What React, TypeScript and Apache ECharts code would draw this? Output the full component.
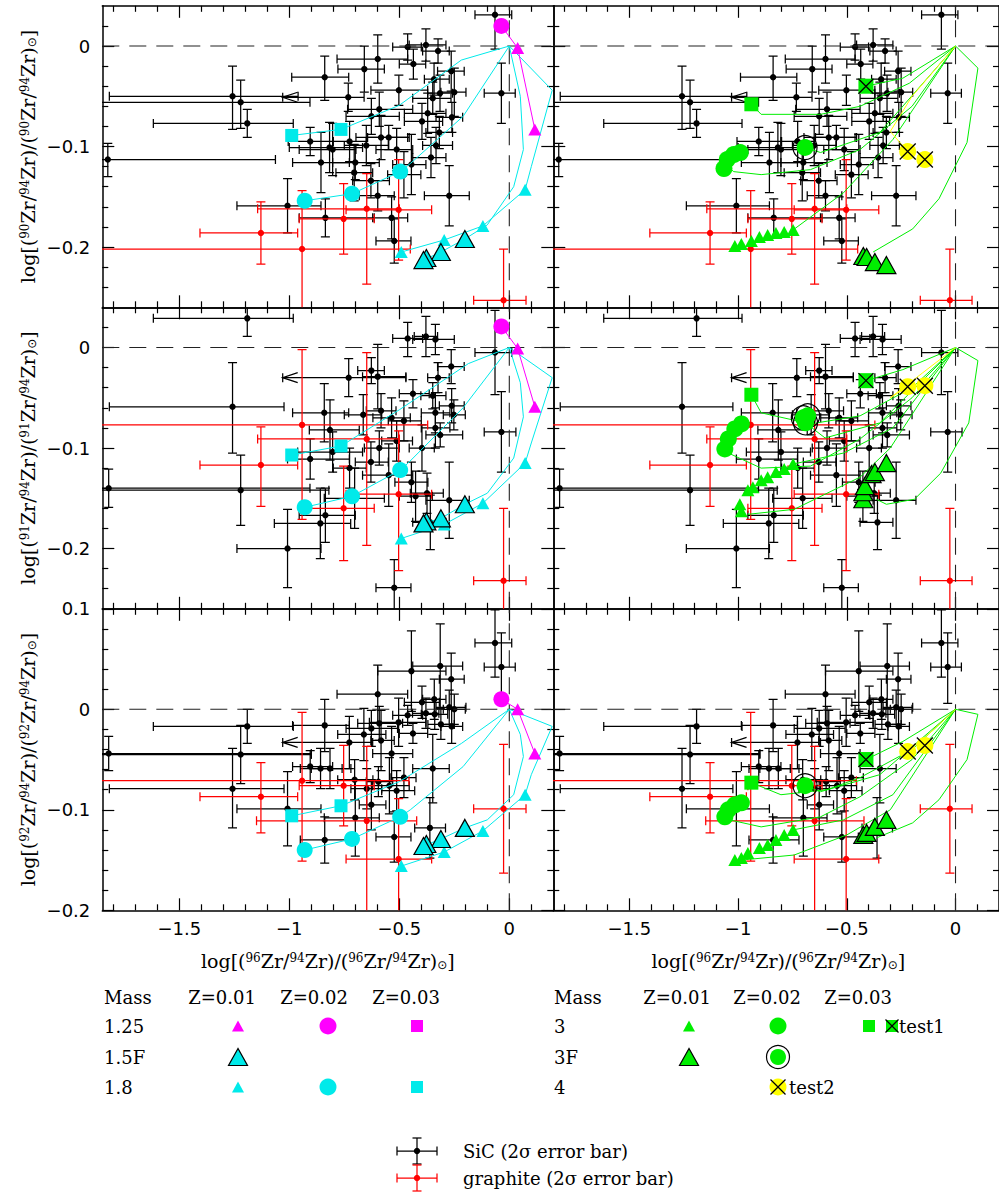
import React, { useEffect, useRef } from 'react';
import * as echarts from 'echarts';

// ---------------- axes ----------------
const X_MIN = -1.85;
const X_MAX = 0.2;
const X_MAJOR = [-1.5, -1, -0.5, 0];
const X_MINOR = [-1.8, -1.7, -1.6, -1.4, -1.3, -1.2, -1.1, -0.9, -0.8, -0.7, -0.6, -0.4, -0.3, -0.2, -0.1, 0.1];
const Y_LIMITS = [[-0.26, 0.04], [-0.26, 0.04], [-0.2, 0.1]];
const Y_MAJOR = [[-0.2, -0.1, 0], [-0.2, -0.1, 0], [-0.2, -0.1, 0, 0.1]];
const Y_MINOR_A = [-0.24, -0.22, -0.18, -0.16, -0.14, -0.12, -0.08, -0.06, -0.04, -0.02, 0.02];
const Y_MINOR_B = [-0.18, -0.16, -0.14, -0.12, -0.08, -0.06, -0.04, -0.02, 0.02, 0.04, 0.06, 0.08];
const Y_MINOR = [Y_MINOR_A, Y_MINOR_A, Y_MINOR_B];
const ZERO_H = [[X_MIN, 0], [X_MAX, 0]];

// ---------------- grains: [x, y, xLow, xHigh, yErrDown, yErrUp] ----------------
const SIC_90 = [
  [-0.065, 0.031, -0.156, 0.011, 0.034, 0.034], [-1.258, -0.05, -1.818, -0.96, 0.033, 0.03],
  [-1.221, -0.056, -1.95, -0.906, 0.026, 0.022], [-1.191, -0.077, -1.618, -0.982, 0.014, 0.014],
  [-1.825, -0.113, -1.95, -1.063, 0.017, 0.016], [-0.839, -0.031, -0.989, -0.73, 0.023, 0.021],
  [-0.732, -0.051, -1.03, -0.66, 0.014, 0.014], [-0.462, -0.001, -0.53, -0.4, 0.013, 0.013],
  [-0.379, 0.001, -0.455, -0.288, 0.016, 0.016], [-0.324, -0.005, -0.394, -0.273, 0.012, 0.012],
  [-0.436, -0.018, -0.5, -0.38, 0.015, 0.015], [-0.598, -0.013, -0.783, -0.462, 0.024, 0.024],
  [-0.659, -0.023, -0.779, -0.568, 0.023, 0.023], [-0.264, -0.025, -0.326, -0.205, 0.02, 0.02],
  [-0.342, -0.033, -0.386, -0.273, 0.016, 0.016], [-0.502, -0.044, -0.629, -0.371, 0.015, 0.015],
  [-0.25, -0.046, -0.311, -0.197, 0.024, 0.024], [-0.036, -0.047, -0.114, 0.027, 0.03, 0.03],
  [-0.315, -0.047, -0.371, -0.258, 0.018, 0.018], [-0.348, -0.052, -0.439, -0.265, 0.016, 0.016],
  [-0.591, -0.063, -0.735, -0.439, 0.017, 0.017], [-0.627, -0.07, -0.742, -0.5, 0.018, 0.018],
  [-0.371, -0.067, -0.477, -0.288, 0.02, 0.02], [-0.397, -0.075, -0.477, -0.303, 0.018, 0.018],
  [-0.261, -0.071, -0.333, -0.212, 0.015, 0.015], [-0.318, -0.086, -0.379, -0.258, 0.016, 0.016],
  [-0.333, -0.099, -0.394, -0.258, 0.018, 0.018], [-0.356, -0.111, -0.439, -0.288, 0.02, 0.02],
  [-0.583, -0.091, -0.697, -0.462, 0.022, 0.022], [-0.548, -0.091, -0.644, -0.455, 0.012, 0.012],
  [-0.512, -0.103, -0.606, -0.439, 0.021, 0.021], [-0.905, -0.095, -1.005, -0.803, 0.014, 0.014],
  [-0.817, -0.101, -1.0, -0.667, 0.025, 0.025], [-0.803, -0.103, -0.955, -0.697, 0.026, 0.026],
  [-0.856, -0.116, -0.985, -0.727, 0.03, 0.03], [-0.7, -0.116, -0.803, -0.591, 0.017, 0.017],
  [-0.705, -0.126, -0.788, -0.621, 0.028, 0.028], [-0.629, -0.134, -0.712, -0.545, 0.017, 0.017],
  [-0.598, -0.149, -0.682, -0.523, 0.015, 0.015], [-0.479, -0.128, -0.553, -0.402, 0.023, 0.023],
  [-0.445, -0.118, -0.53, -0.379, 0.03, 0.03], [-0.273, -0.149, -0.386, -0.182, 0.03, 0.03],
  [-0.836, -0.171, -0.955, -0.614, 0.019, 0.019], [-0.535, -0.171, -0.621, -0.462, 0.021, 0.021],
  [-0.523, -0.194, -0.606, -0.447, 0.022, 0.022], [-1.008, -0.159, -1.238, -0.856, 0.027, 0.027],
  [-0.726, -0.095, -0.8, -0.65, 0.02, 0.02], [-0.65, -0.099, -0.75, -0.55, 0.02, 0.02],
];
const SIC_91 = [
  [-0.065, -0.005, -0.156, 0.011, 0.042, 0.042], [-1.191, 0.029, -1.618, -0.982, 0.018, 0.018],
  [-0.462, 0.009, -0.53, -0.394, 0.018, 0.016], [-0.379, 0.011, -0.432, -0.326, 0.02, 0.02],
  [-0.336, 0.008, -0.439, -0.25, 0.015, 0.015], [-0.627, -0.023, -0.689, -0.568, 0.013, 0.013],
  [-0.598, -0.029, -0.667, -0.47, 0.032, 0.032], [-0.73, -0.03, -1.03, -0.47, 0.019, 0.019],
  [-0.264, -0.019, -0.326, -0.205, 0.017, 0.017], [-0.324, -0.03, -0.371, -0.273, 0.015, 0.015],
  [-0.438, -0.046, -0.5, -0.364, 0.014, 0.014], [-0.348, -0.048, -0.402, -0.288, 0.013, 0.013],
  [-0.262, -0.058, -0.318, -0.205, 0.017, 0.017], [-0.252, -0.067, -0.3, -0.2, 0.015, 0.015],
  [-0.336, -0.065, -0.4, -0.27, 0.02, 0.02], [-0.583, -0.063, -0.65, -0.515, 0.017, 0.017],
  [-0.535, -0.07, -0.62, -0.45, 0.02, 0.02], [-0.479, -0.073, -0.55, -0.4, 0.02, 0.02],
  [-0.841, -0.065, -0.985, -0.73, 0.029, 0.029], [-0.815, -0.082, -0.909, -0.682, 0.03, 0.03],
  [-0.803, -0.104, -0.962, -0.667, 0.02, 0.02], [-1.258, -0.059, -1.818, -1.024, 0.046, 0.044],
  [-1.221, -0.142, -1.95, -0.82, 0.035, 0.035], [-1.821, -0.14, -1.95, -0.906, 0.019, 0.019],
  [-0.905, -0.111, -1.008, -0.727, 0.02, 0.02], [-0.629, -0.114, -0.7, -0.55, 0.02, 0.02],
  [-0.591, -0.1, -0.659, -0.5, 0.017, 0.017], [-0.512, -0.093, -0.58, -0.44, 0.02, 0.02],
  [-0.397, -0.1, -0.455, -0.341, 0.023, 0.023], [-0.314, -0.087, -0.379, -0.212, 0.012, 0.012],
  [-0.336, -0.08, -0.4, -0.27, 0.02, 0.02], [-0.703, -0.15, -0.841, -0.568, 0.03, 0.03],
  [-0.859, -0.175, -1.068, -0.721, 0.035, 0.035], [-1.008, -0.2, -1.238, -0.856, 0.039, 0.039],
  [-0.548, -0.127, -0.667, -0.439, 0.031, 0.031], [-0.359, -0.174, -0.439, -0.288, 0.027, 0.027],
  [-0.273, -0.152, -0.379, -0.182, 0.038, 0.038], [-0.523, -0.239, -0.606, -0.447, 0.028, 0.028],
  [-0.036, -0.084, -0.114, 0.03, 0.04, 0.04], [-0.445, -0.134, -0.52, -0.37, 0.02, 0.02],
  [-0.426, -0.148, -0.5, -0.35, 0.025, 0.025], [-0.836, -0.167, -0.955, -0.7, 0.027, 0.027],
  [-0.664, -0.067, -0.75, -0.58, 0.02, 0.02], [-0.726, -0.12, -0.8, -0.65, 0.02, 0.02],
  [-0.374, -0.145, -0.45, -0.3, 0.02, 0.02],
];
const SIC_92 = [
  [-0.065, 0.066, -0.156, 0.011, 0.034, 0.033], [-0.036, 0.042, -0.114, 0.027, 0.036, 0.034],
  [-0.445, 0.038, -0.598, -0.288, 0.04, 0.04], [-0.314, 0.043, -0.439, -0.212, 0.042, 0.042],
  [-0.264, 0.03, -0.318, -0.205, 0.028, 0.026], [-0.598, 0.015, -0.783, -0.462, 0.029, 0.029],
  [-0.397, 0.007, -0.477, -0.318, 0.016, 0.016], [-0.341, 0.01, -0.394, -0.288, 0.02, 0.02],
  [-0.273, 0.002, -0.333, -0.197, 0.017, 0.017], [-0.25, 0, -0.3, -0.2, 0.015, 0.015],
  [-0.379, -0.004, -0.44, -0.32, 0.015, 0.015], [-0.339, -0.005, -0.4, -0.28, 0.015, 0.015],
  [-0.462, -0.006, -0.53, -0.394, 0.01, 0.01], [-0.311, -0.015, -0.37, -0.25, 0.015, 0.015],
  [-0.262, -0.017, -0.311, -0.212, 0.017, 0.017], [-0.503, -0.013, -0.636, -0.379, 0.024, 0.024],
  [-0.438, -0.024, -0.5, -0.371, 0.01, 0.01], [-0.591, -0.014, -0.689, -0.485, 0.017, 0.017],
  [-0.627, -0.019, -0.742, -0.508, 0.018, 0.018], [-0.839, -0.016, -0.985, -0.727, 0.026, 0.026],
  [-0.661, -0.025, -0.78, -0.561, 0.026, 0.026], [-0.727, -0.033, -1.03, -0.621, 0.026, 0.026],
  [-0.583, -0.031, -0.629, -0.523, 0.03, 0.03], [-0.535, -0.044, -0.621, -0.439, 0.027, 0.027],
  [-1.191, -0.017, -1.618, -0.982, 0.017, 0.017], [-1.221, -0.045, -1.95, -0.9, 0.029, 0.029],
  [-1.821, -0.044, -1.95, -0.9, 0.017, 0.017], [-1.258, -0.079, -1.818, -1.024, 0.039, 0.04],
  [-0.905, -0.057, -0.985, -0.803, 0.016, 0.016], [-0.858, -0.059, -0.95, -0.76, 0.02, 0.02],
  [-0.815, -0.059, -0.9, -0.72, 0.02, 0.02], [-1.008, -0.099, -1.238, -0.856, 0.037, 0.037],
  [-0.7, -0.108, -0.841, -0.591, 0.038, 0.038], [-0.627, -0.095, -0.682, -0.561, 0.025, 0.025],
  [-0.595, -0.072, -0.65, -0.53, 0.015, 0.015], [-0.545, -0.076, -0.621, -0.455, 0.028, 0.028],
  [-0.512, -0.081, -0.58, -0.43, 0.02, 0.02], [-0.479, -0.068, -0.538, -0.424, 0.02, 0.02],
  [-0.523, -0.127, -0.606, -0.447, 0.025, 0.025], [-0.348, -0.059, -0.439, -0.273, 0.034, 0.034],
  [-0.361, -0.118, -0.43, -0.29, 0.03, 0.03], [-0.839, -0.13, -0.95, -0.72, 0.023, 0.023],
  [-0.703, -0.07, -0.78, -0.62, 0.02, 0.02], [-0.648, -0.079, -0.72, -0.58, 0.02, 0.02],
];
const GRAPHITE_90 = [
  [-1.129, -0.186, -1.406, -0.962, 0.031, 0.031], [-0.942, -0.202, -1.95, -0.45, 0.1, 0.058],
  [-0.753, -0.172, -0.955, -0.614, 0.035, 0.035], [-0.648, -0.162, -1.144, -0.5, 0.075, 0.035],
  [-0.503, -0.163, -0.742, -0.353, 0.05, 0.05], [-0.026, -0.253, -0.162, 0.076, 0.05, 0.051],
];
const GRAPHITE_91 = [
  [-1.129, -0.117, -1.406, -0.962, 0.041, 0.038], [-0.942, -0.077, -1.95, -0.371, 0.094, 0.075],
  [-0.753, -0.16, -0.955, -0.614, 0.052, 0.042], [-0.648, -0.091, -1.144, -0.5, 0.106, 0.086],
  [-0.503, -0.146, -0.742, -0.353, 0.076, 0.063], [-0.026, -0.232, -0.162, 0.076, 0.05, 0.072],
];
const GRAPHITE_92 = [
  [-1.129, -0.087, -1.406, -0.962, 0.036, 0.034], [-0.942, -0.071, -1.95, -0.456, 0.08, 0.068],
  [-0.753, -0.076, -0.955, -0.614, 0.04, 0.04], [-0.648, -0.111, -1.149, -0.421, 0.11, 0.074],
  [-0.503, -0.149, -0.742, -0.353, 0.07, 0.06], [-0.026, -0.099, -0.162, 0.076, 0.064, 0.064],
];
const LIMIT_90 = [[-1.03, -0.051]];
const LIMIT_91 = [[-1.03, -0.03]];
const LIMIT_92 = [[-1.03, -0.033]];

// ---------------- low-mass models (left column) ----------------
const M125_Z02_90 = [[-0.036, 0.02]];
const M125_Z01_90 = [[0.038, -0.002], [0.116, -0.083]];
const M125_LINE_90 = [[-0.036, 0.02], [0.038, -0.002], [0.116, -0.083]];
const M18_Z03_90 = [[-0.765, -0.083], [-0.989, -0.089]];
const M18_Z03_LINE_90 = [[0, 0], [-0.218, -0.014], [-0.5, -0.059], [-0.765, -0.083], [-0.989, -0.089]];
const M18_Z02_90 = [[-0.496, -0.125], [-0.715, -0.147], [-0.93, -0.154]];
const M18_Z02_LINE_90 = [[0, 0], [-0.21, -0.07], [-0.45, -0.117], [-0.496, -0.125], [-0.715, -0.147], [-0.93, -0.154]];
const M18_Z01_90 = [[0.072, -0.143], [-0.12, -0.179], [-0.296, -0.193], [-0.491, -0.205]];
const M18_Z01_LINE_90 = [[0, 0], [0.195, -0.044], [0.1, -0.12], [0.072, -0.143], [-0.12, -0.179], [-0.296, -0.193], [-0.491, -0.205]];
const M15F_90 = [[-0.202, -0.192], [-0.311, -0.205], [-0.377, -0.211], [-0.39, -0.213]];
const M15F_LINE_90 = [[0, 0], [0.05, -0.05], [0.064, -0.103], [0.02, -0.14], [-0.1, -0.178], [-0.202, -0.192], [-0.311, -0.205], [-0.39, -0.213]];

const M125_Z02_91 = [[-0.036, 0.021]];
const M125_Z01_91 = [[0.038, -0.001], [0.116, -0.059]];
const M125_LINE_91 = [[-0.036, 0.021], [0.038, -0.001], [0.116, -0.059]];
const M18_Z03_91 = [[-0.765, -0.098], [-0.989, -0.107]];
const M18_Z03_LINE_91 = [[0, 0], [-0.186, -0.016], [-0.5, -0.062], [-0.765, -0.098], [-0.989, -0.107]];
const M18_Z02_91 = [[-0.496, -0.122], [-0.715, -0.148], [-0.93, -0.159]];
const M18_Z02_LINE_91 = [[0, 0], [-0.21, -0.06], [-0.46, -0.115], [-0.496, -0.122], [-0.715, -0.148], [-0.93, -0.159]];
const M18_Z01_91 = [[0.072, -0.115], [-0.12, -0.155], [-0.296, -0.176], [-0.491, -0.19]];
const M18_Z01_LINE_91 = [[0, 0], [0.195, -0.03], [0.1, -0.095], [0.072, -0.115], [-0.12, -0.155], [-0.296, -0.176], [-0.491, -0.19]];
const M15F_91 = [[-0.202, -0.156], [-0.311, -0.17], [-0.377, -0.173], [-0.39, -0.175]];
const M15F_LINE_91 = [[0, 0], [0.05, -0.035], [0.064, -0.069], [0.02, -0.11], [-0.1, -0.145], [-0.202, -0.156], [-0.311, -0.17], [-0.39, -0.175]];

const M125_Z02_92 = [[-0.036, 0.01]];
const M125_Z01_92 = [[0.038, 0], [0.116, -0.044]];
const M125_LINE_92 = [[-0.036, 0.01], [0.038, 0], [0.116, -0.044]];
const M18_Z03_92 = [[-0.765, -0.096], [-0.989, -0.106]];
const M18_Z03_LINE_92 = [[0, 0], [-0.218, -0.034], [-0.5, -0.072], [-0.765, -0.096], [-0.989, -0.106]];
const M18_Z02_92 = [[-0.496, -0.107], [-0.715, -0.129], [-0.93, -0.14]];
const M18_Z02_LINE_92 = [[0, 0], [-0.21, -0.057], [-0.45, -0.1], [-0.496, -0.107], [-0.715, -0.129], [-0.93, -0.14]];
const M18_Z01_92 = [[0.072, -0.085], [-0.12, -0.121], [-0.296, -0.142], [-0.491, -0.156]];
const M18_Z01_LINE_92 = [[0, 0], [0.195, -0.017], [0.1, -0.065], [0.072, -0.085], [-0.12, -0.121], [-0.296, -0.142], [-0.491, -0.156]];
const M15F_92 = [[-0.202, -0.118], [-0.311, -0.129], [-0.377, -0.134], [-0.39, -0.136]];
const M15F_LINE_92 = [[0, 0], [0.05, -0.025], [0.064, -0.047], [0.02, -0.085], [-0.1, -0.11], [-0.202, -0.118], [-0.311, -0.129], [-0.39, -0.136]];

// ---------------- intermediate-mass models (right column) ----------------
const M3_Z03_90 = [[-0.939, -0.058]];
const M3_Z03_LINE_90 = [[0, 0], [-0.212, -0.037], [-0.439, -0.06], [-0.621, -0.068], [-0.894, -0.068], [-0.939, -0.058]];
const TEST1_90 = [[-0.412, -0.04]];
const TEST1_LINE_90 = [[0, 0], [-0.242, -0.032], [-0.412, -0.04]];
const M3_Z02_90 = [[-1.065, -0.122], [-1.05, -0.113], [-1.02, -0.108], [-0.99, -0.106]];
const M3_Z02_LINE_90 = [[0, 0], [-0.2, -0.06], [-0.439, -0.103], [-0.667, -0.123], [-0.894, -0.128], [-1.02, -0.125], [-1.06, -0.118]];
const M3F_Z02_90 = [[-0.692, -0.101]];
const M3F_Z02_LINE_90 = [[0, 0], [-0.348, -0.086], [-0.621, -0.106], [-0.692, -0.101]];
const M3_Z01_90 = [[-1.015, -0.199], [-0.985, -0.197], [-0.939, -0.194], [-0.902, -0.19], [-0.864, -0.188], [-0.826, -0.186], [-0.788, -0.185], [-0.747, -0.183]];
const M3_Z01_LINE_90 = [[0, 0], [-0.288, -0.093], [-0.515, -0.146], [-0.747, -0.183]];
const M3F_Z01_90 = [[-0.424, -0.209], [-0.409, -0.21], [-0.371, -0.215], [-0.318, -0.218]];
const M3F_Z01_LINE_90 = [[0, 0], [0.103, -0.022], [0.053, -0.096], [-0.076, -0.152], [-0.197, -0.182], [-0.379, -0.205]];
const TEST2_90 = [[-0.22, -0.105], [-0.141, -0.113]];
const TEST2_LINE_90 = [[0, 0], [-0.2, -0.05], [-0.3, -0.085], [-0.22, -0.105]];

const M3_Z03_91 = [[-0.939, -0.047]];
const M3_Z03_LINE_91 = [[0, 0], [-0.2, -0.04], [-0.439, -0.068], [-0.667, -0.076], [-0.894, -0.065], [-0.939, -0.047]];
const TEST1_91 = [[-0.412, -0.033]];
const TEST1_LINE_91 = [[0, 0], [-0.242, -0.022], [-0.412, -0.033]];
const M3_Z02_91 = [[-1.061, -0.101], [-1.045, -0.091], [-1.015, -0.081], [-0.985, -0.076]];
const M3_Z02_LINE_91 = [[0, 0], [-0.2, -0.05], [-0.439, -0.091], [-0.667, -0.118], [-0.894, -0.12], [-1.045, -0.105]];
const M3F_Z02_91 = [[-0.7, -0.07], [-0.69, -0.075], [-0.68, -0.068]];
const M3F_Z02_LINE_91 = [[0, 0], [-0.348, -0.075], [-0.6, -0.09], [-0.69, -0.075]];
const M3_Z01_91 = [[-0.985, -0.163], [-0.992, -0.156], [-0.955, -0.142], [-0.932, -0.139], [-0.894, -0.132], [-0.864, -0.129], [-0.826, -0.124], [-0.788, -0.121], [-0.747, -0.116]];
const M3_Z01_LINE_91 = [[0, 0], [-0.288, -0.08], [-0.515, -0.105], [-0.747, -0.116]];
const M3_Z01_LINE2_91 = [[0, 0], [-0.3, -0.1], [-0.439, -0.129], [-0.742, -0.161], [-0.955, -0.166]];
const M3F_Z01_91 = [[-0.424, -0.151], [-0.424, -0.144], [-0.417, -0.138], [-0.386, -0.126], [-0.371, -0.124], [-0.318, -0.115]];
const M3F_Z01_LINE_91 = [[0, 0], [0.103, -0.013], [0.061, -0.075], [-0.068, -0.125], [-0.189, -0.151], [-0.318, -0.156], [-0.364, -0.151]];
const TEST2_91 = [[-0.22, -0.039], [-0.141, -0.038]];
const TEST2_LINE_91 = [[0, 0], [-0.15, -0.025], [-0.3, -0.05], [-0.22, -0.039]];

const M3_Z03_92 = [[-0.939, -0.073]];
const M3_Z03_LINE_92 = [[0, 0], [-0.2, -0.04], [-0.439, -0.068], [-0.591, -0.08], [-0.803, -0.085], [-0.939, -0.073]];
const TEST1_92 = [[-0.412, -0.05]];
const TEST1_LINE_92 = [[0, 0], [-0.242, -0.032], [-0.412, -0.05]];
const M3_Z02_92 = [[-1.061, -0.107], [-1.045, -0.1], [-1.015, -0.095], [-0.985, -0.093]];
const M3_Z02_LINE_92 = [[0, 0], [-0.2, -0.05], [-0.439, -0.087], [-0.621, -0.107], [-0.894, -0.117], [-1.04, -0.11]];
const M3F_Z02_92 = [[-0.692, -0.076]];
const M3F_Z02_LINE_92 = [[0, 0], [-0.348, -0.065], [-0.621, -0.082], [-0.692, -0.076]];
const M3_Z01_92 = [[-1.015, -0.15], [-0.985, -0.148], [-0.955, -0.143], [-0.902, -0.138], [-0.864, -0.135], [-0.826, -0.13], [-0.788, -0.125], [-0.747, -0.12]];
const M3_Z01_LINE_92 = [[0, 0], [-0.288, -0.085], [-0.515, -0.11], [-0.747, -0.12]];
const M3_Z01_LINE2_92 = [[0, 0], [-0.3, -0.1], [-0.5, -0.125], [-0.742, -0.145], [-0.985, -0.15]];
const M3F_Z01_92 = [[-0.424, -0.125], [-0.409, -0.123], [-0.371, -0.117], [-0.318, -0.11]];
const M3F_Z01_LINE_92 = [[0, 0], [0.103, -0.005], [0.053, -0.05], [-0.076, -0.09], [-0.197, -0.113], [-0.364, -0.128]];
const TEST2_92 = [[-0.22, -0.042], [-0.141, -0.036]];
const TEST2_LINE_92 = [[0, 0], [-0.15, -0.03], [-0.25, -0.045], [-0.22, -0.042]];

// ---------------- style / layout ----------------
const C = { cyan: '#00eaea', magenta: '#ff00ff', green: '#00ee00', yellow: '#ffff00', red: '#ff0000', black: '#000000' };
const COL_X = [102.3, 553.3];
const PANEL_W = 451;
const ROW_Y = [5.8, 307.3, 608.8];
const PANEL_H = 301.5;
const TICK_FONT = 'DejaVu Sans';
const TEXT_FONT = 'DejaVu Serif';
const X_PATH = 'path://M0,0L16,16M16,0L0,16';

const fmt = (v: number) => {
  const r = Math.round(v * 10) / 10;
  if (Math.abs(r) < 1e-9) return '0';
  return (r < 0 ? '\u2212' : '') + String(Math.abs(r));
};

function errRender(color: string) {
  return (params: any, api: any) => {
    const x = api.value(0), y = api.value(1);
    const xl = api.value(2), xh = api.value(3);
    const yl = y - api.value(4), yh = y + api.value(5);
    const c = api.coord([x, y]);
    const l = api.coord([xl, y]);
    const r = api.coord([xh, y]);
    const t = api.coord([x, yh]);
    const b = api.coord([x, yl]);
    const cap = 4.5;
    const st = { stroke: color, lineWidth: 1.25 };
    return {
      type: 'group',
      children: [
        { type: 'line', shape: { x1: l[0], y1: c[1], x2: r[0], y2: c[1] }, style: st },
        { type: 'line', shape: { x1: l[0], y1: c[1] - cap, x2: l[0], y2: c[1] + cap }, style: st },
        { type: 'line', shape: { x1: r[0], y1: c[1] - cap, x2: r[0], y2: c[1] + cap }, style: st },
        { type: 'line', shape: { x1: c[0], y1: t[1], x2: c[0], y2: b[1] }, style: st },
        { type: 'line', shape: { x1: c[0] - cap, y1: t[1], x2: c[0] + cap, y2: t[1] }, style: st },
        { type: 'line', shape: { x1: c[0] - cap, y1: b[1], x2: c[0] + cap, y2: b[1] }, style: st },
        { type: 'circle', shape: { cx: c[0], cy: c[1], r: 3.2 }, style: { fill: color } },
      ],
    };
  };
}

function limitRender(params: any, api: any) {
  const p = api.coord([api.value(0), api.value(1)]);
  return {
    type: 'polyline',
    shape: { points: [[p[0] + 15, p[1] - 5], [p[0], p[1]], [p[0] + 15, p[1] + 5]] },
    style: { stroke: '#000', lineWidth: 1.3, fill: 'none' },
  };
}

function buildOption() {
  const grid: any[] = [];
  const xAxis: any[] = [];
  const yAxis: any[] = [];
  const series: any[] = [];
  const graphic: any[] = [];
  const lineSt = { color: '#000', width: 1.5 };
  const tickSt = { color: '#000', width: 1.2 };

  const rows = [
    { sic: SIC_90, gr: GRAPHITE_90, lim: LIMIT_90,
      left: { m125z02: M125_Z02_90, m125z01: M125_Z01_90, m125line: M125_LINE_90, z03: M18_Z03_90, z03l: M18_Z03_LINE_90, z02: M18_Z02_90, z02l: M18_Z02_LINE_90, z01: M18_Z01_90, z01l: M18_Z01_LINE_90, f: M15F_90, fl: M15F_LINE_90 },
      right: { sq: M3_Z03_90, sql: M3_Z03_LINE_90, t1: TEST1_90, t1l: TEST1_LINE_90, ci: M3_Z02_90, cil: M3_Z02_LINE_90, cf: M3F_Z02_90, cfl: M3F_Z02_LINE_90, tr: M3_Z01_90, trl: [M3_Z01_LINE_90], tf: M3F_Z01_90, tfl: M3F_Z01_LINE_90, t2: TEST2_90, t2l: TEST2_LINE_90 } },
    { sic: SIC_91, gr: GRAPHITE_91, lim: LIMIT_91,
      left: { m125z02: M125_Z02_91, m125z01: M125_Z01_91, m125line: M125_LINE_91, z03: M18_Z03_91, z03l: M18_Z03_LINE_91, z02: M18_Z02_91, z02l: M18_Z02_LINE_91, z01: M18_Z01_91, z01l: M18_Z01_LINE_91, f: M15F_91, fl: M15F_LINE_91 },
      right: { sq: M3_Z03_91, sql: M3_Z03_LINE_91, t1: TEST1_91, t1l: TEST1_LINE_91, ci: M3_Z02_91, cil: M3_Z02_LINE_91, cf: M3F_Z02_91, cfl: M3F_Z02_LINE_91, tr: M3_Z01_91, trl: [M3_Z01_LINE_91, M3_Z01_LINE2_91], tf: M3F_Z01_91, tfl: M3F_Z01_LINE_91, t2: TEST2_91, t2l: TEST2_LINE_91 } },
    { sic: SIC_92, gr: GRAPHITE_92, lim: LIMIT_92,
      left: { m125z02: M125_Z02_92, m125z01: M125_Z01_92, m125line: M125_LINE_92, z03: M18_Z03_92, z03l: M18_Z03_LINE_92, z02: M18_Z02_92, z02l: M18_Z02_LINE_92, z01: M18_Z01_92, z01l: M18_Z01_LINE_92, f: M15F_92, fl: M15F_LINE_92 },
      right: { sq: M3_Z03_92, sql: M3_Z03_LINE_92, t1: TEST1_92, t1l: TEST1_LINE_92, ci: M3_Z02_92, cil: M3_Z02_LINE_92, cf: M3F_Z02_92, cfl: M3F_Z02_LINE_92, tr: M3_Z01_92, trl: [M3_Z01_LINE_92, M3_Z01_LINE2_92], tf: M3F_Z01_92, tfl: M3F_Z01_LINE_92, t2: TEST2_92, t2l: TEST2_LINE_92 } },
  ];

  for (let r = 0; r < 3; r++) {
    for (let c = 0; c < 2; c++) {
      const gi = r * 2 + c;
      grid.push({ left: COL_X[c], top: ROW_Y[r], width: PANEL_W, height: PANEL_H });
      const [ymin, ymax] = Y_LIMITS[r];
      const xb = { type: 'value', gridIndex: gi, min: X_MIN, max: X_MAX, splitLine: { show: false }, silent: true };
      const yb = { type: 'value', gridIndex: gi, min: ymin, max: ymax, splitLine: { show: false }, silent: true };
      xAxis.push({ ...xb, position: 'bottom', axisLine: { onZero: false, lineStyle: lineSt },
        axisTick: { inside: true, length: 12, customValues: X_MAJOR, lineStyle: tickSt },
        axisLabel: { show: r === 2, customValues: X_MAJOR, formatter: fmt, margin: 9, fontFamily: TICK_FONT, fontSize: 18, color: '#000' } });
      xAxis.push({ ...xb, position: 'bottom', axisLine: { show: false, onZero: false },
        axisTick: { inside: true, length: 6, customValues: X_MINOR, lineStyle: tickSt }, axisLabel: { show: false } });
      xAxis.push({ ...xb, position: 'top', axisLine: { onZero: false, lineStyle: lineSt },
        axisTick: { inside: true, length: 12, customValues: X_MAJOR, lineStyle: tickSt }, axisLabel: { show: false } });
      xAxis.push({ ...xb, position: 'top', axisLine: { show: false, onZero: false },
        axisTick: { inside: true, length: 6, customValues: X_MINOR, lineStyle: tickSt }, axisLabel: { show: false } });
      yAxis.push({ ...yb, position: 'left', axisLine: { onZero: false, lineStyle: lineSt },
        axisTick: { inside: true, length: 12, customValues: Y_MAJOR[r], lineStyle: tickSt },
        axisLabel: { show: c === 0, customValues: Y_MAJOR[r], formatter: fmt, margin: 12, fontFamily: TICK_FONT, fontSize: 18, color: '#000' } });
      yAxis.push({ ...yb, position: 'left', axisLine: { show: false, onZero: false },
        axisTick: { inside: true, length: 6, customValues: Y_MINOR[r], lineStyle: tickSt }, axisLabel: { show: false } });
      yAxis.push({ ...yb, position: 'right', axisLine: { onZero: false, lineStyle: lineSt },
        axisTick: { inside: true, length: 12, customValues: Y_MAJOR[r], lineStyle: tickSt }, axisLabel: { show: false } });
      yAxis.push({ ...yb, position: 'right', axisLine: { show: false, onZero: false },
        axisTick: { inside: true, length: 6, customValues: Y_MINOR[r], lineStyle: tickSt }, axisLabel: { show: false } });

      const ax = { xAxisIndex: gi * 4, yAxisIndex: gi * 4 };
      const dashed = { color: '#222', width: 1.1, type: [17, 10] };
      const ln = (data: any, color: string, extra: any = {}) => ({ type: 'line', ...ax, data, symbol: 'none', showSymbol: false, silent: true, clip: true, z: 4, lineStyle: { color, width: 1, ...extra } });
      const sc = (data: any, symbol: string, size: any, color: string, border?: string, z = 6, bw = 1.2) => ({
        type: 'scatter', ...ax, data, symbol, symbolSize: size, silent: true, clip: true, z,
        itemStyle: { color, borderColor: border || color, borderWidth: border ? bw : 0, opacity: 1 } });

      series.push(ln(ZERO_H, '#222', dashed));
      series.push(ln([[0, ymin], [0, ymax]], '#222', dashed));

      const row = rows[r];
      series.push({ type: 'custom', ...ax, data: row.sic, renderItem: errRender('#000'), clip: true, silent: true, z: 3, encode: { x: 0, y: 1 } });
      series.push({ type: 'custom', ...ax, data: row.gr, renderItem: errRender(C.red), clip: true, silent: true, z: 3, encode: { x: 0, y: 1 } });
      series.push({ type: 'custom', ...ax, data: row.lim, renderItem: limitRender, clip: true, silent: true, z: 3, encode: { x: 0, y: 1 } });

      if (c === 0) {
        const m = row.left;
        series.push(ln(m.z03l, C.cyan));
        series.push(ln(m.z02l, C.cyan));
        series.push(ln(m.z01l, C.cyan));
        series.push(ln(m.fl, C.cyan));
        series.push(ln(m.m125line, C.magenta));
        series.push(sc(m.z03, 'rect', 13, C.cyan));
        series.push(sc(m.z02, 'circle', 16, C.cyan));
        series.push(sc(m.z01, 'triangle', [13, 12], C.cyan));
        series.push(sc(m.f, 'triangle', [19, 17], C.cyan, '#000'));
        series.push(sc(m.m125z02, 'circle', 16, C.magenta));
        series.push(sc(m.m125z01, 'triangle', [13, 12], C.magenta));
      } else {
        const m = row.right;
        series.push(ln(m.sql, C.green));
        series.push(ln(m.t1l, C.green));
        series.push(ln(m.cil, C.green));
        series.push(ln(m.cfl, C.green));
        m.trl.forEach((l: any) => series.push(ln(l, C.green)));
        series.push(ln(m.tfl, C.green));
        series.push(ln(m.t2l, C.yellow));
        series.push(sc(m.sq, 'rect', 14, C.green));
        series.push(sc(m.t1, 'rect', 15, C.green));
        series.push(sc(m.t1, X_PATH, 15, 'rgba(0,0,0,0)', '#000', 7, 1.3));
        series.push(sc(m.ci, 'circle', 17, C.green));
        series.push(sc(m.cf, 'circle', 24, 'rgba(0,0,0,0)', '#000', 6, 1.2));
        series.push(sc(m.cf, 'circle', 17, C.green));
        series.push(sc(m.tr, 'triangle', [13, 12], C.green));
        series.push(sc(m.tf, 'triangle', [19, 17], C.green, '#000'));
        series.push(sc(m.t2, 'circle', 17, C.yellow));
        series.push(sc(m.t2, X_PATH, 16, 'rgba(0,0,0,0)', '#000', 7, 1.3));
      }
    }
  }

  // ---------- titles ----------
  const rich = {
    n: { fontSize: 19, fontFamily: TEXT_FONT, fill: '#000' },
    s: { fontSize: 12, fontFamily: TEXT_FONT, fill: '#000', verticalAlign: 'top' },
    b: { fontSize: 12, fontFamily: 'DejaVu Sans', fill: '#000', verticalAlign: 'bottom' },
  };
  const title = (iso: string) => `{n|log[(}{s|${iso}}{n|Zr/}{s|94}{n|Zr)/(}{s|${iso}}{n|Zr/}{s|94}{n|Zr)}{b|\u2299}{n|]}`;
  const yTitles = ['90', '91', '92'];
  yTitles.forEach((iso, r) => {
    graphic.push({ type: 'text', x: 28, y: ROW_Y[r] + PANEL_H / 2, rotation: Math.PI / 2, silent: true,
      style: { text: title(iso), rich, align: 'center', verticalAlign: 'middle', textAlign: 'center', textVerticalAlign: 'middle' } });
  });
  [0, 1].forEach((c) => {
    graphic.push({ type: 'text', x: COL_X[c] + (c === 0 ? PANEL_W / 2 : 225), y: 961, silent: true,
      style: { text: title('96'), rich, align: 'center', verticalAlign: 'middle', textAlign: 'center', textVerticalAlign: 'middle' } });
  });

  // ---------- legend ----------
  const font = `18px "${TEXT_FONT}"`;
  const txt = (x: number, y: number, text: string, align = 'left') => ({ type: 'text', x, y, silent: true,
    style: { text, font, fill: '#000', align, textAlign: align, verticalAlign: 'middle', textVerticalAlign: 'middle' } });
  const tri = (x: number, y: number, w: number, h: number, fill: string, stroke?: string) => ({ type: 'polygon', silent: true,
    shape: { points: [[x, y - h / 2], [x - w / 2, y + h / 2], [x + w / 2, y + h / 2]] },
    style: { fill, stroke: stroke || fill, lineWidth: stroke ? 1.2 : 0 } });
  const circ = (x: number, y: number, rr: number, fill: string, stroke?: string) => ({ type: 'circle', silent: true,
    shape: { cx: x, cy: y, r: rr }, style: { fill, stroke: stroke || 'none', lineWidth: stroke ? 1.2 : 0 } });
  const sq = (x: number, y: number, s: number, fill: string) => ({ type: 'rect', silent: true, shape: { x: x - s / 2, y: y - s / 2, width: s, height: s }, style: { fill } });
  const cross = (x: number, y: number, h: number) => [
    { type: 'line', silent: true, shape: { x1: x - h, y1: y - h, x2: x + h, y2: y + h }, style: { stroke: '#000', lineWidth: 1.3 } },
    { type: 'line', silent: true, shape: { x1: x + h, y1: y - h, x2: x - h, y2: y + h }, style: { stroke: '#000', lineWidth: 1.3 } },
  ];
  const ebar = (x: number, y: number, color: string) => {
    const st = { stroke: color, lineWidth: 1.25 };
    return [
      { type: 'line', silent: true, shape: { x1: x - 20, y1: y, x2: x + 20, y2: y }, style: st },
      { type: 'line', silent: true, shape: { x1: x - 20, y1: y - 4.5, x2: x - 20, y2: y + 4.5 }, style: st },
      { type: 'line', silent: true, shape: { x1: x + 20, y1: y - 4.5, x2: x + 20, y2: y + 4.5 }, style: st },
      { type: 'line', silent: true, shape: { x1: x, y1: y - 13, x2: x, y2: y + 13 }, style: st },
      { type: 'line', silent: true, shape: { x1: x - 4.5, y1: y - 13, x2: x + 4.5, y2: y - 13 }, style: st },
      { type: 'line', silent: true, shape: { x1: x - 4.5, y1: y + 13, x2: x + 4.5, y2: y + 13 }, style: st },
      { type: 'circle', silent: true, shape: { cx: x, cy: y, r: 3.2 }, style: { fill: color } },
    ];
  };
  const LY = [997, 1026, 1057, 1087];
  graphic.push(txt(104, LY[0], 'Mass'), txt(222, LY[0], 'Z=0.01', 'center'), txt(314, LY[0], 'Z=0.02', 'center'), txt(406, LY[0], 'Z=0.03', 'center'));
  graphic.push(txt(104, LY[1], '1.25'), txt(104, LY[2], '1.5F'), txt(104, LY[3], '1.8'));
  graphic.push(tri(238, LY[1], 12, 11, C.magenta), circ(328, LY[1], 8.5, C.magenta), sq(417, LY[1], 12, C.magenta));
  graphic.push(tri(238, LY[2], 19, 17, C.cyan, '#000'));
  graphic.push(tri(238, LY[3], 12, 11, C.cyan), circ(328, LY[3], 8.5, C.cyan), sq(417, LY[3], 12, C.cyan));
  graphic.push(txt(554, LY[0], 'Mass'), txt(677, LY[0], 'Z=0.01', 'center'), txt(767, LY[0], 'Z=0.02', 'center'), txt(858, LY[0], 'Z=0.03', 'center'));
  graphic.push(txt(554, LY[1], '3'), txt(554, LY[2], '3F'), txt(554, LY[3], '4'));
  graphic.push(tri(689, LY[1], 12, 11, C.green), circ(778, LY[1], 8.5, C.green), sq(869, LY[1], 12, C.green), sq(892, LY[1], 12, C.green));
  graphic.push(...cross(892, LY[1], 6.5), txt(899, LY[1], 'test1'));
  graphic.push(tri(689, LY[2], 19, 17, C.green, '#000'), circ(778, LY[2], 11.5, 'none', '#000'), circ(778, LY[2], 8, C.green));
  graphic.push(circ(778, LY[3], 8.5, C.yellow), ...cross(778, LY[3], 7.5), txt(789, LY[3], 'test2'));
  graphic.push(...ebar(417, 1151, '#000'), txt(463, 1151, 'SiC (2\u03c3 error bar)'));
  graphic.push(...ebar(417, 1178, C.red), txt(463, 1178, 'graphite (2\u03c3 error bar)'));

  return { animation: false, backgroundColor: '#fff', grid, xAxis, yAxis, series, graphic };
}

export default function App() {
  const ref = useRef<HTMLDivElement>(null);
  useEffect(() => {
    if (!ref.current) return;
    const chart = echarts.init(ref.current, null, { renderer: 'svg' });
    chart.setOption(buildOption() as any);
    return () => chart.dispose();
  }, []);
  return <div ref={ref} style={{ position: 'absolute', left: 0, top: 0, width: 999, height: 1192, background: '#fff' }} />;
}
